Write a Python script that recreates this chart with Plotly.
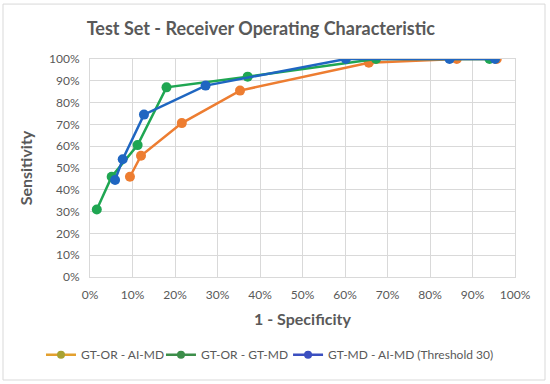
import plotly.graph_objects as go

# Data (1 - specificity, sensitivity) in fractions
or_ai_x = [0.094, 0.120, 0.216, 0.353, 0.656, 0.863, 0.957]
or_ai_y = [0.460, 0.556, 0.706, 0.855, 0.983, 1.000, 1.000]

or_md_x = [0.016, 0.051, 0.112, 0.180, 0.371, 0.673, 0.940]
or_md_y = [0.310, 0.460, 0.605, 0.870, 0.919, 1.000, 1.000]

md_ai_x = [0.059, 0.077, 0.127, 0.272, 0.602, 0.846, 0.953]
md_ai_y = [0.445, 0.540, 0.745, 0.878, 1.000, 1.000, 1.000]

names = ["GT-OR - AI-MD", "GT-OR - GT-MD", "GT-MD - AI-MD (Threshold 30)"]
line_colors = ["#ED7D31", "#1FA652", "#1F66C1"]
legend_line_colors = ["#E3A02E", "#3C8E4A", "#3B4FC0"]
legend_marker_colors = ["#A8A232", "#3C8E4A", "#3B4FC0"]

tick_vals = [i / 10 for i in range(11)]
tick_text = [f"{i*10}%" for i in range(11)]

fig = go.Figure()
series = [(or_ai_x, or_ai_y), (or_md_x, or_md_y), (md_ai_x, md_ai_y)]
for (xs, ys), c in zip(series, line_colors):
    fig.add_trace(go.Scatter(x=xs, y=ys, mode="lines+markers",
                             line=dict(color=c, width=2.5),
                             marker=dict(color=c, size=10),
                             showlegend=False, hoverinfo="skip"))
legend_ids = ["legend", "legend2", "legend3"]
for n, lc, mc, lid in zip(names, legend_line_colors, legend_marker_colors, legend_ids):
    fig.add_trace(go.Scatter(x=[None], y=[None], mode="lines+markers", name=n,
                             line=dict(color=lc, width=2.5),
                             marker=dict(color=mc, size=8), legend=lid))

font_family = "Lato, Carlito, 'Open Sans', sans-serif"
axis_common = dict(range=[0, 1], tickvals=tick_vals, ticktext=tick_text,
                   showgrid=True, gridcolor="#D9D9D9", gridwidth=1,
                   showline=True, linecolor="#D9D9D9", mirror=True,
                   zeroline=False, ticks="",
                   tickfont=dict(size=12, color="#595959", family=font_family))

legend_common = dict(orientation="h", xanchor="left", y=-0.29, yanchor="top",
                     font=dict(size=12, color="#595959", family=font_family),
                     itemwidth=30, bgcolor="rgba(0,0,0,0)")

fig.update_layout(
    width=550, height=384,
    margin=dict(l=90, r=35, t=59, b=107, autoexpand=False),
    paper_bgcolor="white", plot_bgcolor="white",
    font=dict(family=font_family, color="#595959"),
    title=dict(text="<b>Test Set - Receiver Operating Characteristic</b>",
               xref="paper", x=0.402, xanchor="center", y=0.925, yanchor="middle",
               font=dict(size=18, color="#595959", family=font_family)),
    xaxis=dict(**axis_common, ticklabelstandoff=7,
               title=dict(text="<b>1 - Specificity</b>", standoff=12,
                          font=dict(size=16, color="#595959", family=font_family))),
    yaxis=dict(**axis_common, ticklabelstandoff=7,
               title=dict(text="<b>Sensitivity</b>", standoff=12,
                          font=dict(size=16, color="#595959", family=font_family))),
    legend=dict(**legend_common, x=-0.1153),
    legend2=dict(**legend_common, x=0.167),
    legend3=dict(**legend_common, x=0.466),
    shapes=[dict(type="rect", xref="paper", yref="paper",
                 x0=-0.2047, x1=1.0706, y0=-0.4725, y1=1.252,
                 line=dict(color="#D9D9D9", width=1), layer="below")],
)

fig.write_html("out.html", config={"displayModeBar": False},
               post_script="document.body.style.margin='0';document.body.style.overflow='hidden';")
